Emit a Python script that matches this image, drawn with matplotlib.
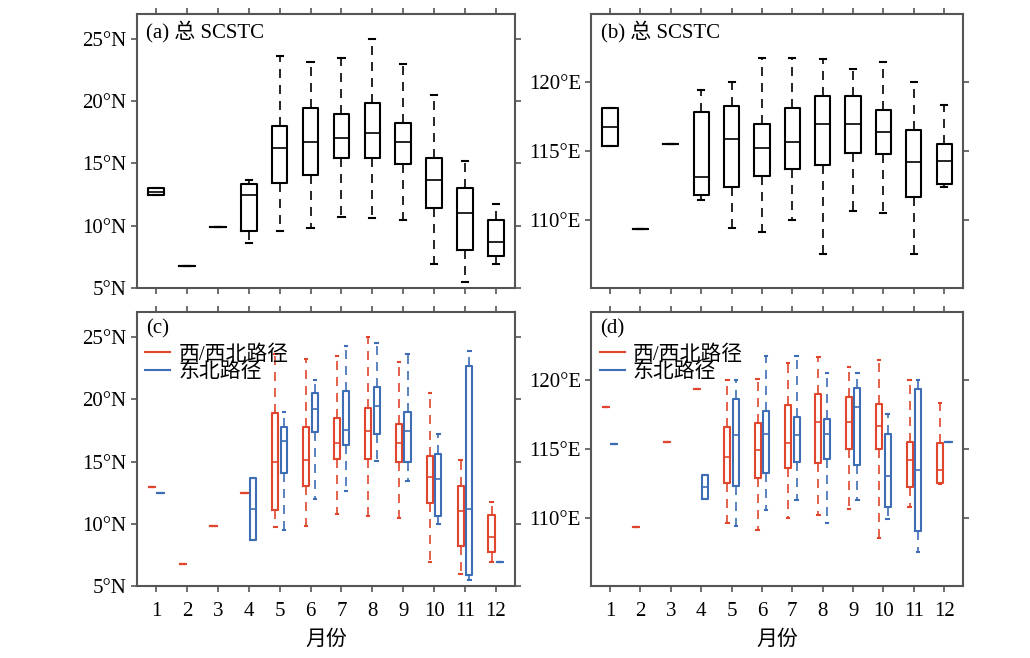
import numpy as np
import matplotlib
matplotlib.use("Agg")
import matplotlib.pyplot as plt
from matplotlib.lines import Line2D

plt.rcParams['font.family'] = ['Liberation Serif', 'Noto Sans CJK SC']
plt.rcParams['axes.unicode_minus'] = False

months = list(range(1, 13))
nan = np.nan

# (a) latitude, all SCSTC: low whisker, q1, median, q3, high whisker
lat_lo  = [12.5, 6.75, 9.9, 8.65, 9.56, 9.86, 10.74, 10.64, 10.45, 6.96, 5.46, 6.96]
lat_q1  = [12.5, 6.75, 9.9, 9.6, 13.46, 14.05, 15.47, 15.47, 14.96, 11.44, 8.09, 7.55]
lat_med = [12.75, 6.75, 9.9, 12.49, 16.28, 16.7, 17.08, 17.48, 16.76, 13.64, 10.99, 8.73]
lat_q3  = [13.0, 6.75, 9.9, 13.38, 18.02, 19.47, 18.96, 19.85, 18.26, 15.47, 13.03, 10.45]
lat_hi  = [13.0, 6.75, 9.9, 13.7, 23.58, 23.17, 23.47, 24.97, 22.99, 20.46, 15.17, 11.79]

# (b) longitude, all SCSTC
lon_lo  = [115.4, 109.32, 115.5, 111.41, 109.39, 109.12, 110.0, 107.52, 110.61, 110.51, 107.52, 112.41]
lon_q1  = [115.4, 109.32, 115.5, 111.82, 112.41, 113.16, 113.7, 114.01, 114.89, 114.79, 111.65, 112.63]
lon_med = [116.76, 109.32, 115.5, 113.11, 115.91, 115.23, 115.67, 116.98, 116.98, 116.4, 114.21, 114.26]
lon_q3  = [118.1, 109.32, 115.5, 117.81, 118.27, 116.98, 118.13, 118.98, 118.98, 118.0, 116.5, 115.5]
lon_hi  = [118.1, 109.32, 115.5, 119.42, 120.02, 121.8, 121.8, 121.7, 120.97, 121.48, 120.0, 118.37]

# (c) latitude, west/northwest track
latw_lo  = [12.97, 6.76, 9.87, 12.49, 9.76, 9.84, 10.8, 10.64, 10.45, 6.95, 5.96, 6.95]
latw_q1  = [12.97, 6.76, 9.87, 12.49, 11.15, 13.02, 15.19, 15.19, 14.97, 11.68, 8.26, 7.75]
latw_med = [12.97, 6.76, 9.87, 12.49, 15.0, 15.16, 16.47, 17.46, 16.5, 13.8, 11.02, 8.98]
latw_q3  = [12.97, 6.76, 9.87, 12.49, 18.88, 17.75, 18.5, 19.28, 17.99, 15.48, 13.07, 10.7]
latw_hi  = [12.97, 6.76, 9.87, 12.49, 23.6, 23.2, 23.48, 25.0, 23.0, 20.51, 15.16, 11.79]

# (c) latitude, northeast track
late_lo  = [12.5, nan, nan, 8.69, 9.55, 11.98, 12.67, 15.05, 13.45, 9.97, 5.48, 6.98]
late_q1  = [12.5, nan, nan, 8.69, 14.06, 17.33, 16.31, 17.17, 14.97, 10.61, 5.94, 6.98]
late_med = [12.5, nan, nan, 11.18, 16.63, 19.25, 17.54, 19.44, 17.41, 13.58, 11.23, 6.98]
late_q3  = [12.5, nan, nan, 13.66, 17.75, 20.48, 20.67, 20.99, 18.96, 15.64, 22.67, 6.98]
late_hi  = [12.5, nan, nan, 13.66, 18.98, 21.52, 24.3, 24.49, 23.61, 17.17, 23.88, 6.98]

# (d) longitude, west/northwest track
lonw_lo  = [118.08, 109.3, 115.49, 119.39, 109.59, 109.1, 110.0, 110.19, 110.61, 108.5, 110.78, 112.43]
lonw_q1  = [118.08, 109.3, 115.49, 119.39, 112.55, 112.89, 113.64, 113.98, 115.0, 115.0, 112.23, 112.55]
lonw_med = [118.08, 109.3, 115.49, 119.39, 114.42, 114.9, 115.46, 116.99, 116.94, 116.7, 114.17, 113.5]
lonw_q3  = [118.08, 109.3, 115.49, 119.39, 116.6, 116.89, 118.23, 118.98, 118.81, 118.28, 115.49, 115.41]
lonw_hi  = [118.08, 109.3, 115.49, 119.39, 120.0, 120.1, 121.31, 121.7, 121.0, 121.48, 120.0, 118.37]

# (d) longitude, northeast track
lone_lo  = [115.39, nan, nan, 111.36, 109.39, 110.56, 111.29, 109.59, 111.29, 109.9, 107.5, 115.49]
lone_q1  = [115.39, nan, nan, 111.36, 112.31, 113.28, 114.08, 114.3, 113.86, 110.78, 109.0, 115.49]
lone_med = [115.39, nan, nan, 112.21, 116.0, 116.09, 116.0, 116.07, 118.08, 113.01, 113.5, 115.49]
lone_q3  = [115.39, nan, nan, 113.11, 118.64, 117.74, 117.31, 117.21, 119.47, 116.12, 119.39, 115.49]
lone_hi  = [115.39, nan, nan, 113.11, 120.0, 121.8, 121.8, 120.51, 120.51, 117.57, 120.0, 115.49]

lat_ticks = [5, 10, 15, 20, 25]
lat_labels = ['5°N', '10°N', '15°N', '20°N', '25°N']
lon_ticks = [110, 115, 120]
lon_labels = ['110°E', '115°E', '120°E']

RED = '#e0452e'
BLUE = '#3d6db5'
EDGE = '#555555'


def make_stats(lo, q1, med, q3, hi):
    stats, pos = [], []
    for m, a, b, c, d, e in zip(months, lo, q1, med, q3, hi):
        if np.isnan(c):
            continue
        stats.append(dict(whislo=a, q1=b, med=c, q3=d, whishi=e, fliers=[]))
        pos.append(m)
    return stats, np.array(pos, dtype=float)


def draw(ax, data, color, offset, width, capw, lw):
    stats, pos = make_stats(*data)
    ax.bxp(stats, positions=pos + offset, widths=width, showfliers=False,
           capwidths=capw, manage_ticks=False,
           boxprops=dict(color=color, lw=lw),
           medianprops=dict(color=color, lw=lw * 0.8),
           whiskerprops=dict(color=color, lw=lw * 0.8, ls=(0, (5.4, 4.2))),
           capprops=dict(color=color, lw=lw))


fig = plt.figure(figsize=(10.3, 6.58), dpi=100)
ax_a = fig.add_axes([0.133, 0.562, 0.367, 0.417])
ax_b = fig.add_axes([0.574, 0.562, 0.361, 0.417])
ax_c = fig.add_axes([0.133, 0.109, 0.367, 0.417])
ax_d = fig.add_axes([0.574, 0.109, 0.361, 0.417])

draw(ax_a, (lat_lo, lat_q1, lat_med, lat_q3, lat_hi), 'black', 0, 0.5, 0.2, 1.5)
draw(ax_b, (lon_lo, lon_q1, lon_med, lon_q3, lon_hi), 'black', 0, 0.5, 0.2, 1.5)
draw(ax_c, (latw_lo, latw_q1, latw_med, latw_q3, latw_hi), RED, -0.14, 0.2, 0.08, 1.5)
draw(ax_c, (late_lo, late_q1, late_med, late_q3, late_hi), BLUE, 0.14, 0.2, 0.08, 1.5)
draw(ax_d, (lonw_lo, lonw_q1, lonw_med, lonw_q3, lonw_hi), RED, -0.14, 0.2, 0.08, 1.5)
draw(ax_d, (lone_lo, lone_q1, lone_med, lone_q3, lone_hi), BLUE, 0.14, 0.2, 0.08, 1.5)

for ax, lab in zip([ax_a, ax_b, ax_c, ax_d],
                   ['(a) 总 SCSTC', '(b) 总 SCSTC', '(c)', '(d)']):
    ax.set_xlim(0.38, 12.62)
    ax.set_xticks(months)
    ax.tick_params(direction='out', length=4, width=1.2, color=EDGE,
                   top=True, right=True, labelsize=15)
    for s in ax.spines.values():
        s.set_color(EDGE)
        s.set_linewidth(1.5)
    ax.text(0.025, 0.975, lab, transform=ax.transAxes, ha='left', va='top',
            fontsize=15)

for ax in [ax_a, ax_c]:
    ax.set_ylim(5, 27)
    ax.set_yticks(lat_ticks)
    ax.set_yticklabels(lat_labels)
for ax in [ax_b, ax_d]:
    ax.set_ylim(105, 125)
    ax.set_yticks(lon_ticks)
    ax.set_yticklabels(lon_labels)

ax_a.set_xticklabels([])
ax_b.set_xticklabels([])
for ax in [ax_c, ax_d]:
    ax.set_xticklabels([str(m) for m in months])
    ax.tick_params(axis='x', pad=7)
    ax.set_xlabel('月份', fontsize=15, labelpad=7)
    handles = [Line2D([], [], color=RED, lw=1.5), Line2D([], [], color=BLUE, lw=1.5)]
    ax.legend(handles, ['西/西北路径', '东北路径'], loc='upper left',
              bbox_to_anchor=(0.0, 0.91), frameon=False, fontsize=15,
              handlelength=1.2, handletextpad=0.4, labelspacing=-0.1,
              borderpad=0.2, borderaxespad=0.2)

fig.savefig('out.png', dpi=100)
